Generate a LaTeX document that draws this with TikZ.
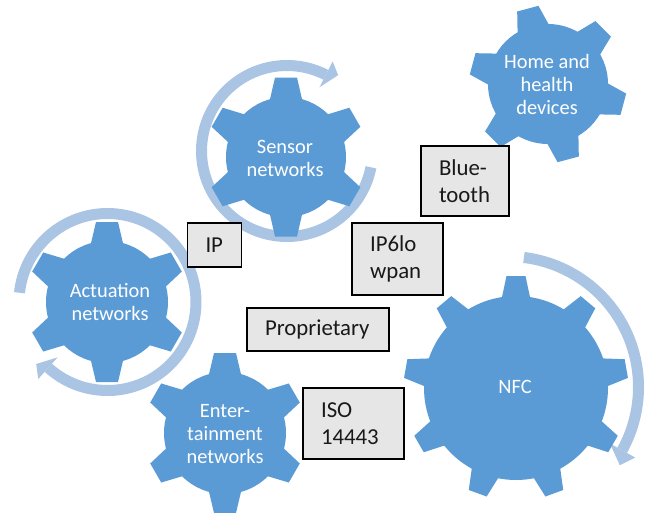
\documentclass[tikz,border=0pt]{standalone}
\usepackage{fontspec}
\setmainfont{Carlito}
\usetikzlibrary{calc}

\definecolor{gearblue}{HTML}{5B9BD5}
\definecolor{ringblue}{RGB}{170,196,228}
\definecolor{boxgrey}{HTML}{E7E6E6}
\definecolor{boxtext}{RGB}{25,25,25}

% cog wheel: #1,#2 centre, #3 body radius, #4 tip radius,
% #5 half width at the tip, #6 half width at the root, #7 tooth angles
\newcommand{\drawcog}[7]{%
  \begin{scope}[shift={(#1,#2)}]
    \fill[gearblue] (0,0) circle[radius=#3];
    \pgfmathsetmacro{\cogroot}{sqrt(#3*#3-#6*#6)}
    \pgfmathsetmacro{\coginner}{\cogroot-6}
    \foreach \a in {#7} {
      \fill[gearblue]
        ($(\a:\coginner)+(\a+90:#6)$) -- ($(\a:\cogroot)+(\a+90:#6)$) --
        ($(\a:#4)+(\a+90:#5)$) -- ($(\a:#4)+(\a-90:#5)$) --
        ($(\a:\cogroot)+(\a-90:#6)$) -- ($(\a:\coginner)+(\a-90:#6)$) -- cycle;
    }
  \end{scope}}

% circular arrow: #1,#2 centre, #3 band radius, #4 start angle,
% #5 end angle (back of the head), #6 angle of the tip
\newcommand{\ringarrow}[6]{%
  \begin{scope}[shift={(#1,#2)}]
    \draw[ringblue, line width=11pt]
      plot[domain=#4:#5, samples=120] (\x:#3);
    \pgfmathsetmacro{\headin}{#3-14}
    \pgfmathsetmacro{\headout}{#3+15}
    \pgfmathsetmacro{\headtip}{#3+6}
    \fill[ringblue] (#5:\headin) -- (#5:\headout) -- (#6:\headtip) -- cycle;
  \end{scope}}

\begin{document}
\begin{tikzpicture}[x=1pt, y=-1pt,
  gearlabel/.style={text=white, font=\fontsize{20.4}{23}\selectfont,
    align=center, inner sep=0pt},
  netbox/.style={draw=black, line width=1.8pt, fill=boxgrey, text=boxtext,
    font=\fontsize{22.8}{27.4}\selectfont, align=left,
    inner xsep=18pt, inner ysep=0pt}]
  \useasboundingbox (0,0) rectangle (645,512);
  \clip (0,0) rectangle (645,512);

  % rotating arrows behind the wheels
  \ringarrow{287}{151}{85.5}{11}{297}{304}
  \ringarrow{107.5}{302}{88.5}{186}{492}{499}
  \ringarrow{508}{387}{130.5}{277}{389}{395}

  % wheels
  \drawcog{286}{157}{60}{79.5}{11}{16}{30,90,150,210,270,330}
  \drawcog{107}{302}{61}{80}{11}{16}{30,90,150,210,270,330}
  \drawcog{225}{433}{61}{80}{11}{16}{30,90,150,210,270,330}
  \drawcog{548}{84}{60}{78}{11}{16}{15,75,135,195,255,315}
  \drawcog{516}{388}{92}{112}{9.5}{14}{30,70,110,150,190,230,270,310,350}

  % wheel labels
  \node[gearlabel] (sensor) at (285,158) {Sensor\\networks};
  \node[gearlabel] (actuation) at (110,302) {Actuation\\networks};
  \node[gearlabel] (entertain) at (225,434) {Enter-\\tainment\\networks};
  \node[gearlabel] (home) at (547,84) {Home and\\health\\devices};
  \node[gearlabel] (nfc) at (515,387) {NFC};

  % protocol boxes
  \node[netbox, minimum width=53pt, minimum height=44pt, text width=18pt]
    (ip) at (214.5,245) {IP};
  \node[netbox, minimum width=88pt, minimum height=70pt, text width=52pt]
    (bt) at (465,181) {Blue-\\tooth};
  \node[netbox, minimum width=91pt, minimum height=72pt, text width=55pt]
    (sixlo) at (397.5,259) {IP6lo\\wpan};
  \node[netbox, minimum width=140pt, minimum height=43pt, text width=106pt]
    (prop) at (318,329.5) {Proprietary};
  \node[netbox, minimum width=101pt, minimum height=71pt, text width=65pt]
    (iso) at (353.5,423.5) {ISO\\14443};
\end{tikzpicture}
\end{document}
